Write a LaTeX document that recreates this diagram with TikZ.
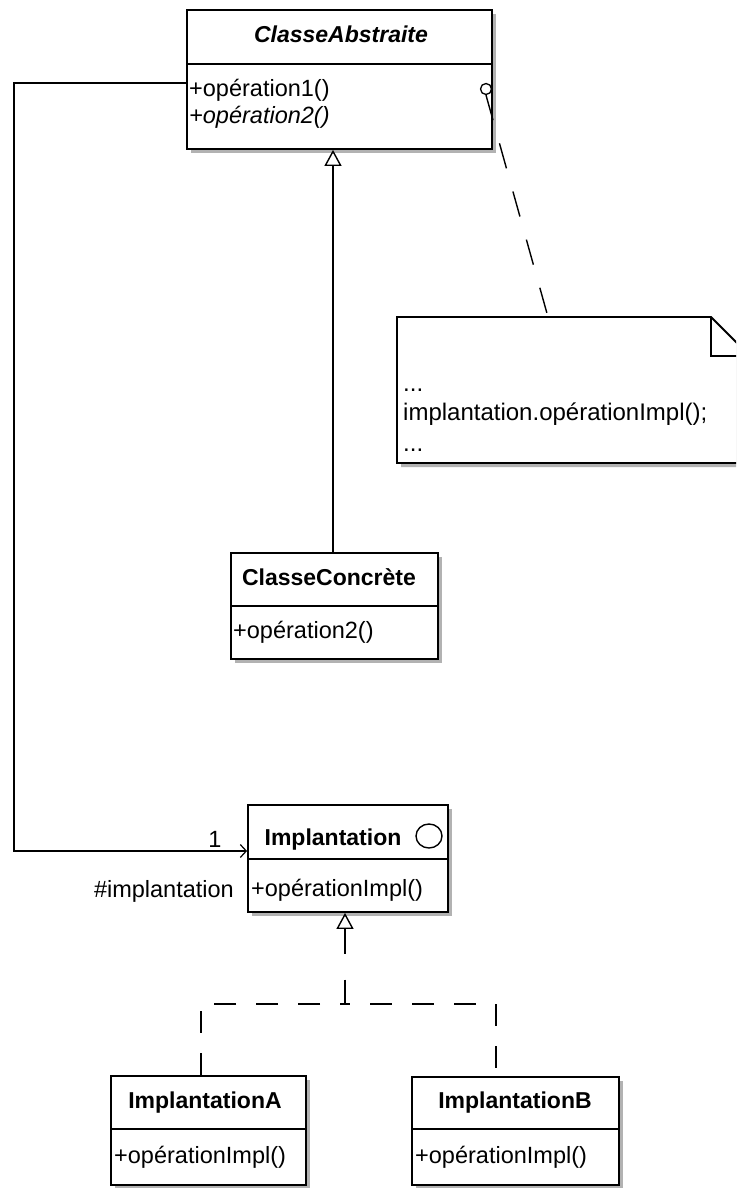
\documentclass[tikz,border=0pt]{standalone}
\usepackage{fontspec}
\setmainfont{Liberation Sans}
\usetikzlibrary{arrows.meta,shadows,shapes.geometric}
\begin{document}
\begin{tikzpicture}[x=1pt,y=-1pt,
  umlbox/.style={draw=black,line width=1.8pt,fill=white,rectangle,inner sep=0pt,
    general shadow={fill=gray!60,shadow xshift=4pt,shadow yshift=-4pt}},
  divider/.style={line width=1.8pt},
  txt/.style={inner sep=0pt,font=\fontsize{23.5}{27}\selectfont},
  titletxt/.style={inner sep=0pt,font=\fontsize{23}{27}\selectfont\bfseries},
  notetxt/.style={inner sep=0pt,font=\fontsize{24}{28}\selectfont},
  link/.style={line width=1.4pt},
  notelink/.style={line width=1.4pt,dash pattern=on 26pt off 24pt},
  dashlink/.style={line width=1.4pt,dash pattern=on 22pt off 20pt,dash phase=17pt},
  gentip/.style={-{Triangle[open,width=17pt,length=16pt,line width=1.4pt]}},
  genstart/.style={{Triangle[open,width=17pt,length=16pt,line width=1.4pt]}-},
  navtip/.style={-{Straight Barb[length=6pt,width=13pt,line width=1.2pt]}}]
\useasboundingbox (0,0) rectangle (736,1188);
\clip (0,0) rectangle (736,1188);

% ---- abstract class ----
\node[umlbox,minimum width=305pt,minimum height=139pt] (abs) at (339.5,79.5) {};
\draw[divider] (abs.west |- 0,64) -- (abs.east |- 0,64);
\node[titletxt,anchor=base,font=\fontsize{23}{27}\selectfont\bfseries\itshape] (absname) at (341,43) {ClasseAbstraite};
\node[txt,anchor=base west] (absop1) at (189,97) {+opération1()};
\node[txt,anchor=base west,font=\fontsize{23.5}{27}\selectfont\itshape] (absop2) at (189,124) {+opération2()};
\node[draw,circle,line width=1.3pt,minimum size=11pt,inner sep=0pt,fill=white] (anchorpt) at (486,89) {};

% ---- note (folded corner) ----
\fill[gray!60] (401,321) -- (715,321) -- (754,360) -- (754,467) -- (401,467) -- cycle;
\draw[line width=1.8pt,fill=white] (397,317) -- (711,317) -- (750,356) -- (750,463) -- (397,463) -- cycle;
\draw[line width=1.8pt] (711,317) -- (711,356) -- (750,356);
\coordinate (notetop) at (548,317);
\node[notetxt,anchor=base west] (n1) at (403,391) {...};
\node[notetxt,anchor=base west] (n2) at (403,420) {implantation.opérationImpl();};
\node[notetxt,anchor=base west] (n3) at (403,451) {...};
\draw[notelink] (anchorpt.south) -- (notetop);

% ---- concrete class ----
\node[umlbox,minimum width=207pt,minimum height=106pt] (conc) at (334.5,606) {};
\draw[divider] (conc.west) -- (conc.east);
\node[titletxt,anchor=base] (concname) at (329,585) {ClasseConcrète};
\node[txt,anchor=base west] (concop) at (233,638) {+opération2()};
\draw[link,gentip] (333,553) coordinate (concin) -- (concin |- abs.south);

% ---- implementor interface ----
\node[umlbox,minimum width=200pt,minimum height=107pt] (impl) at (348,858.5) {};
\draw[divider] (impl.west |- 0,859) -- (impl.east |- 0,859);
\node[titletxt,anchor=base] (implname) at (333,845) {Implantation};
\node[draw,ellipse,line width=1.4pt,minimum width=26pt,minimum height=24pt,inner sep=0pt] (ifc) at (429,836) {};
\node[txt,anchor=base west] (implop) at (251,896) {+opérationImpl()};

% ---- association ----
\coordinate (bendA) at (14,83);
\coordinate (bendB) at (14,851);
\draw[link,navtip] (abs.west |- bendA) -- (bendA) -- (bendB) -- (impl.west |- bendB);
\node[txt,anchor=base] (mult) at (215,847) {1};
\node[txt,anchor=base east] (role) at (234,897) {\#implantation};

% ---- implementations ----
\node[umlbox,minimum width=195pt,minimum height=109pt] (implA) at (208.5,1130.5) {};
\draw[divider] (implA.west |- 0,1129) -- (implA.east |- 0,1129);
\node[titletxt,anchor=base] (implAname) at (205,1108) {ImplantationA};
\node[txt,anchor=base west] (implAop) at (114,1163) {+opérationImpl()};

\node[umlbox,minimum width=207pt,minimum height=108pt] (implB) at (515.5,1131) {};
\draw[divider] (implB.west |- 0,1129) -- (implB.east |- 0,1129);
\node[titletxt,anchor=base] (implBname) at (515,1108) {ImplantationB};
\node[txt,anchor=base west] (implBop) at (415,1163) {+opérationImpl()};

% ---- realisation fork ----
\coordinate (fork) at (345,1004);
\coordinate (legA) at (201,1004);
\coordinate (legB) at (496,1004);
\draw[dashlink] (fork) -- (legA) -- (legA |- implA.north);
\draw[dashlink] (fork) -- (legB) -- (legB |- implB.north);
\draw[link,dash pattern=on 25pt off 26pt,genstart] (fork |- impl.south) -- (fork);
\end{tikzpicture}
\end{document}
